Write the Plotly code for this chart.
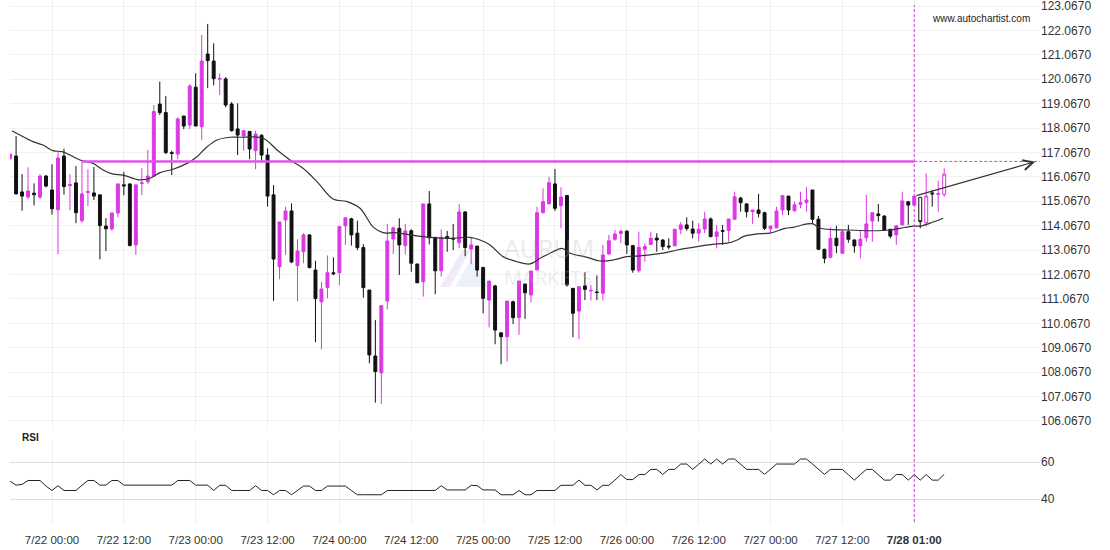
import plotly.graph_objects as go

# ---------------- data (hourly candles, index = hours from 7/22 00:00) ----------------
first_index = -7
opens = [116.81,116.92,115.45,115.24,115.40,115.24,116.10,
         115.53,114.72,116.92,115.71,115.82,114.27,115.43,115.41,115.33,114.05,
         113.94,114.59,115.74,115.78,113.28,115.80,115.87,116.10,119.05,118.70,
         117.06,117.00,118.56,118.19,119.74,118.12,121.10,120.81,120.07,120.08,
         119.05,118.03,117.74,117.93,117.14,117.77,116.96,115.33,112.39,114.30,
         114.67,112.43,113.00,113.69,112.25,110.95,111.53,112.14,112.14,114.06,
         114.35,113.76,113.17,111.43,108.73,108.04,110.98,113.52,113.96,113.25,
         113.86,112.50,111.77,114.96,113.59,112.22,113.62,113.55,113.37,114.63,
         113.11,113.23,112.35,111.02,111.60,109.68,109.52,110.95,110.30,111.68,
         111.23,112.25,114.60,114.96,115.78,114.89,115.30,111.50,110.57,111.60,
         111.40,111.35,111.30,112.91,113.51,113.75,113.84,113.25,112.22,113.10,
         113.30,113.56,113.48,113.23,113.24,113.92,114.10,113.93,113.76,113.93,
         114.34,113.62,113.87,113.87,114.33,115.20,114.96,114.64,114.71,114.60,
         113.94,113.98,114.71,115.28,114.68,114.94,115.01,115.53,114.33,113.10,
         112.77,113.55,112.94,113.82,113.48,113.24,113.57,114.26,114.55,114.46,
         113.92,113.69,114.10,115.05,114.91,115.23,114.19,115.41,115.35,115.35]
highs = [117.00,117.74,116.18,116.46,115.80,116.18,116.14,
         116.58,117.07,117.22,116.18,116.51,116.69,116.38,116.47,115.33,114.38,
         114.59,115.78,116.27,115.78,115.74,116.42,117.17,119.01,119.97,119.38,
         117.14,118.51,118.56,119.87,120.31,121.88,122.33,121.54,120.31,120.15,
         119.13,119.08,117.96,117.93,117.96,117.82,117.24,115.73,114.22,114.84,
         114.98,113.51,113.76,113.71,112.63,111.76,112.85,112.77,114.06,114.39,
         114.39,114.27,113.31,111.43,110.20,110.79,114.14,114.03,114.37,114.14,
         113.92,112.50,114.96,115.49,113.59,113.92,113.85,114.14,114.96,114.66,
         113.59,113.23,112.39,111.80,111.64,109.68,110.98,111.00,111.80,111.68,
         112.21,114.84,115.60,116.07,116.39,115.64,115.33,111.50,111.57,112.16,
         111.64,112.03,113.28,113.69,113.89,113.89,113.89,113.28,113.82,113.35,
         113.82,113.76,113.51,113.55,113.92,114.21,114.41,114.27,114.17,114.64,
         114.41,114.10,114.10,114.34,115.46,115.25,114.98,114.71,115.37,114.64,
         114.05,114.84,115.30,115.28,115.05,115.46,115.64,115.53,114.47,113.12,
         114.00,114.06,113.89,114.10,113.51,113.89,115.33,114.60,114.96,114.50,
         113.92,114.10,115.46,115.05,115.28,115.23,116.21,115.53,115.91,116.42]
lows = [116.78,115.35,114.68,115.15,114.90,115.15,115.64,
        114.52,112.90,115.34,114.70,114.17,114.19,114.87,115.12,112.69,113.03,
        113.85,114.41,115.31,113.21,112.87,115.32,115.78,116.07,118.60,117.00,
        116.14,116.79,118.02,118.02,118.15,117.58,119.70,119.82,119.42,118.92,
        117.92,116.96,117.14,116.79,116.38,116.69,114.85,110.99,111.87,112.87,
        112.53,110.97,112.53,112.32,109.29,109.00,111.09,112.04,111.63,113.28,
        113.25,113.07,111.12,108.43,106.82,106.76,110.64,112.91,112.05,112.89,
        112.18,111.71,111.16,113.30,111.26,111.98,113.00,113.07,113.14,112.82,
        112.49,111.98,110.48,109.90,109.21,108.39,108.50,110.04,109.59,110.25,
        110.93,112.25,114.57,114.96,114.67,113.96,111.57,109.50,109.42,111.02,
        111.00,111.02,111.00,112.87,113.45,113.35,112.91,112.14,112.14,112.59,
        113.28,113.00,113.07,113.10,113.24,113.72,113.86,113.55,113.41,113.76,
        113.59,113.14,113.28,113.41,114.33,114.64,114.41,114.14,114.41,113.89,
        113.76,113.96,114.50,114.50,114.64,114.78,114.64,114.14,113.07,112.53,
        112.73,112.94,112.91,113.37,112.96,112.73,113.41,113.41,114.23,113.89,
        113.55,113.28,114.10,114.10,114.87,113.96,114.03,114.85,114.64,115.25]
closes = [117.00,115.37,115.28,115.49,115.34,116.10,115.69,
          114.76,116.84,115.67,115.75,114.60,115.37,115.46,115.28,114.07,113.94,
          114.59,115.78,115.70,113.26,115.74,115.82,116.10,118.74,118.70,117.06,
          117.03,118.44,118.15,119.79,118.15,120.81,120.83,120.09,120.10,119.01,
          117.96,117.78,117.96,117.21,117.82,116.96,115.28,112.70,114.22,114.67,
          112.58,113.03,113.69,112.35,111.08,111.47,112.14,112.10,114.03,114.39,
          113.69,113.17,111.53,108.77,108.09,110.79,113.44,113.98,113.28,113.85,
          112.53,111.73,114.96,113.57,112.22,113.59,113.54,113.52,114.63,113.17,
          113.28,112.25,111.09,111.80,109.79,109.52,110.98,110.30,111.80,111.32,
          112.21,114.60,115.05,115.83,114.78,115.24,111.64,110.48,111.57,111.46,
          111.42,111.33,112.87,113.45,113.73,113.84,113.28,112.25,113.18,113.21,
          113.55,113.48,113.21,113.20,113.92,114.10,113.95,113.76,113.92,114.34,
          113.62,113.81,113.84,114.34,115.25,115.01,114.64,114.71,114.57,113.96,
          114.05,114.67,115.30,114.71,114.92,115.01,115.12,114.33,113.10,112.73,
          113.55,113.25,113.82,113.51,113.24,113.51,114.14,114.60,114.48,113.89,
          113.64,114.06,115.08,114.91,115.28,114.23,115.28,115.37,115.38,116.18]

rsi = [49.6,47.5,47.9,50.0,50.0,50.0,47.0,
       44.6,47.2,44.6,44.6,44.6,47.4,50.0,50.0,47.5,47.5,
       50.0,50.0,47.5,47.5,47.5,47.5,47.5,47.5,47.5,47.5,
       47.5,50.0,50.0,50.0,47.5,47.5,47.5,44.6,47.4,47.4,
       44.6,44.6,44.6,44.6,47.2,44.6,44.6,42.3,44.6,44.6,
       42.3,44.6,47.0,47.0,44.6,44.6,47.0,47.0,47.0,47.0,
       44.6,42.3,42.3,42.3,42.3,42.3,44.6,44.6,44.6,44.6,
       44.6,44.6,44.6,44.6,44.6,47.2,44.9,44.9,44.9,44.9,
       47.4,47.2,44.9,44.9,44.9,42.3,42.3,42.3,44.6,42.3,
       42.3,44.6,44.6,44.6,44.6,47.4,47.4,47.4,50.2,47.4,
       47.4,44.9,47.4,47.4,50.2,53.2,50.5,50.5,53.2,53.2,
       56.0,56.0,53.3,56.0,56.0,58.9,58.9,56.0,58.8,61.6,
       58.9,61.6,58.9,61.6,61.6,58.8,56.0,56.0,56.0,53.3,
       56.0,58.9,58.9,58.9,58.9,61.6,61.6,58.9,56.0,53.3,
       56.0,56.0,56.0,53.1,50.2,53.2,56.0,56.0,53.1,50.2,
       50.2,53.2,53.2,50.2,53.2,50.2,53.2,50.2,50.2,53.3]

# moving average line, read as (candle index, price) points
ma_x = [-6.68,-5.35,-3.17,-1.50,0.17,1.67,3.0,4.68,6.85,8.52,10.19,11.86,13.86,14.7,16.37,
        18.04,20.21,22.55,24.22,25.89,27.56,29.73,31.40,35.24,37.58,39.75,41.92,44.26,46.93,
        49.27,51.44,53.62,55.29,57.29,59.8,63.14,66.48,69.82,71.49,73.16,75.33,77.67,79.84,
        81.51,83.68,85.18,86.52,89.36,91.53,93.7,96.04,98.21,100.72,102.06,104.39,107.73,
        111.07,112.75,114.42,115.42,117.76,119.93,122.43,123.77,126.11,127.11,128.28,132.79,
        137.13,139.97,141.64,143.81,144.98,146.65,148.82]
ma_y = [117.96,117.78,117.51,117.37,117.14,117.10,116.96,116.76,116.62,116.35,116.18,116.14,115.98,115.94,116.01,
        116.24,116.38,116.62,116.89,117.30,117.58,117.69,117.69,117.65,117.17,116.76,116.42,115.87,115.16,
        115.05,114.78,114.02,113.78,113.78,113.69,113.59,113.55,113.59,113.48,113.28,112.80,112.59,112.50,
        112.73,113.00,113.14,112.94,112.77,112.62,112.66,112.80,112.83,112.90,112.94,113.07,113.21,
        113.32,113.35,113.48,113.62,113.73,113.76,113.96,114.00,114.14,114.14,113.96,113.89,
        113.86,113.89,113.96,114.05,114.05,114.17,114.37]

tick_index = [0, 12, 24, 36, 48, 60, 72, 84, 96, 108, 120, 132, 144]
tick_labels = ["7/22 00:00", "7/22 12:00", "7/23 00:00", "7/23 12:00", "7/24 00:00",
               "7/24 12:00", "7/25 00:00", "7/25 12:00", "7/26 00:00", "7/26 12:00",
               "7/27 00:00", "7/27 12:00", "<b>7/28 01:00</b>"]
price_ticks = [106.067 + k for k in range(18)]
price_tick_labels = ["%.4f" % v for v in price_ticks]
rsi_ticks = [40, 60]

current_index = 144          # pattern end / current candle
resistance_level = 116.70
resistance_start = 5
arrow_start = (144.1, 115.28)
arrow_end = (164.2, 116.69)

# ---------------- figure ----------------
MAG = "#dc38e4"
BLK = "#111111"
idx = list(range(first_index, first_index + len(opens)))
n_solid = current_index - first_index + 1

fig = go.Figure()
fig.add_trace(go.Candlestick(
    x=idx[:n_solid], open=opens[:n_solid], high=highs[:n_solid], low=lows[:n_solid], close=closes[:n_solid],
    increasing=dict(line=dict(color=MAG, width=1), fillcolor=MAG),
    decreasing=dict(line=dict(color=BLK, width=1), fillcolor=BLK),
    whiskerwidth=0, xaxis="x", yaxis="y", hoverinfo="skip"))
fig.add_trace(go.Candlestick(
    x=idx[n_solid:], open=opens[n_solid:], high=highs[n_solid:], low=lows[n_solid:], close=closes[n_solid:],
    increasing=dict(line=dict(color=MAG, width=1), fillcolor="white"),
    decreasing=dict(line=dict(color=BLK, width=1), fillcolor="white"),
    whiskerwidth=0, xaxis="x", yaxis="y", hoverinfo="skip"))
fig.add_trace(go.Scatter(x=ma_x, y=ma_y, mode="lines", line=dict(color="#333333", width=1.2, shape="spline"),
                         xaxis="x", yaxis="y", hoverinfo="skip"))
fig.add_trace(go.Scatter(x=idx, y=rsi, mode="lines", line=dict(color="#222222", width=1),
                         xaxis="x", yaxis="y2", hoverinfo="skip"))

PLOT_H = 524.0
def py(px):  # pixel from top of plot area -> paper y
    return 1 - px / PLOT_H
def pxx(px):  # pixel x -> paper x
    return (px - 10) / 1030.0

shapes = [
    dict(type="line", xref="x", yref="y", x0=resistance_start, x1=current_index,
         y0=resistance_level, y1=resistance_level, line=dict(color="#e055e8", width=2.5)),
    dict(type="line", xref="x", yref="y", x0=current_index, x1=165,
         y0=resistance_level, y1=resistance_level, line=dict(color=MAG, width=1, dash="3px,2px")),
    dict(type="line", xref="x", yref="paper", x0=current_index, x1=current_index,
         y0=py(522), y1=py(5), line=dict(color=MAG, width=1, dash="3px,2px")),
    # faint watermark logo
    dict(type="path", xref="paper", yref="paper",
         path="M %f %f L %f %f L %f %f L %f %f Z" % (pxx(440), py(287), pxx(462), py(251), pxx(470), py(251), pxx(450), py(287)),
         fillcolor="rgba(190,160,235,0.22)", line=dict(width=0), layer="below"),
    dict(type="path", xref="paper", yref="paper",
         path="M %f %f L %f %f L %f %f L %f %f Z" % (pxx(455), py(287), pxx(472), py(257), pxx(488), py(287), pxx(478), py(287)),
         fillcolor="rgba(170,190,240,0.22)", line=dict(width=0), layer="below"),
]

annotations = [
    dict(x=arrow_end[0], y=arrow_end[1], ax=arrow_start[0], ay=arrow_start[1], xref="x", yref="y",
         axref="x", ayref="y", text="", showarrow=True, arrowhead=5, arrowsize=1.8, arrowwidth=1.1,
         arrowcolor="#333333"),
    dict(x=pxx(1032), y=py(18), xref="paper", yref="paper", text="www.autochartist.com", showarrow=False,
         xanchor="right", yanchor="middle", font=dict(size=10, color="#222222", family="Liberation Sans, Arial")),
    dict(x=pxx(20), y=py(437), xref="paper", yref="paper", text="<b>RSI</b>", showarrow=False,
         xanchor="left", yanchor="middle", font=dict(size=10, color="#222222", family="Liberation Sans, Arial")),
    dict(x=pxx(549), y=py(248), xref="paper", yref="paper", text="AURUM", showarrow=False,
         xanchor="center", yanchor="middle", font=dict(size=25, color="rgba(180,180,180,0.28)", family="Open Sans")),
    dict(x=pxx(548), y=py(277), xref="paper", yref="paper", text="MARKETS", showarrow=False,
         xanchor="center", yanchor="middle", font=dict(size=20, color="rgba(180,180,180,0.25)", family="Open Sans")),
]

price_top = 123.067 + 6 / 24.41
price_bottom = 123.067 - 424 / 24.41

fig.update_layout(
    width=1110, height=550, margin=dict(l=10, r=70, t=0, b=26),
    paper_bgcolor="white", plot_bgcolor="white", showlegend=False,
    font=dict(family="Liberation Sans, Arial, sans-serif", size=11, color="#333333"),
    xaxis=dict(range=[-7.015, 165.0], tickmode="array", tickvals=tick_index, ticktext=tick_labels,
               showgrid=True, gridcolor="#f1f1f1", gridwidth=1, zeroline=False, showline=False,
               ticks="outside", ticklen=5, tickcolor="rgba(0,0,0,0)", anchor="y2",
               rangeslider=dict(visible=False), tickfont=dict(size=11.5, color="#333333")),
    yaxis=dict(domain=[py(430), 1], range=[price_bottom, price_top], side="right", anchor="x",
               tickmode="array", tickvals=price_ticks, ticktext=price_tick_labels,
               showgrid=True, gridcolor="#f1f1f1", zeroline=False, showline=False, ticks="",
               ticklabeloverflow="allow", tickfont=dict(size=12, color="#333333")),
    yaxis2=dict(domain=[0, py(440)], range=[40 - 25 / 1.85, 60 + 22 / 1.85], side="right", anchor="x",
                tickmode="array", tickvals=rsi_ticks, ticktext=[str(v) for v in rsi_ticks],
                showgrid=True, gridcolor="#dddddd", zeroline=False, showline=False, ticks="",
                tickfont=dict(size=12, color="#333333")),
    shapes=shapes, annotations=annotations,
)

fig.write_html("out.html", config={"displayModeBar": False},
               post_script="document.body.style.margin='0px';")
